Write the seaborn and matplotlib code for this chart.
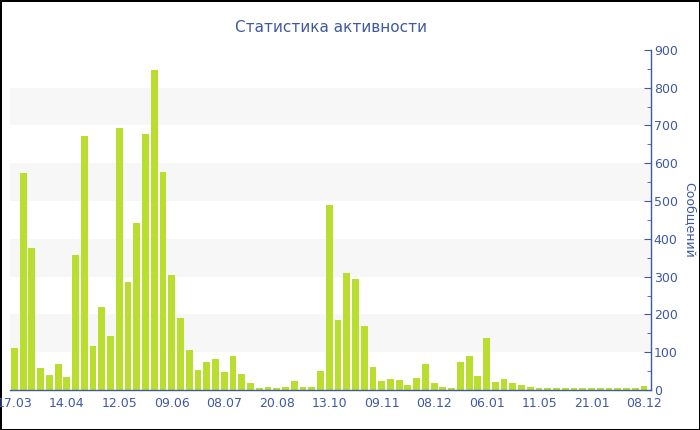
import numpy as np
import pandas as pd
import matplotlib
matplotlib.use('Agg')
import matplotlib.pyplot as plt
import seaborn as sns
from matplotlib.ticker import MultipleLocator

# Message counts per bar
values = [110, 574, 375, 57, 40, 69, 34, 358, 672, 117,
          220, 143, 694, 286, 441, 677, 847, 576, 304, 191,
          105, 53, 74, 83, 48, 90, 43, 19, 6, 8,
          5, 8, 23, 7, 7, 51, 489, 184, 310, 295,
          170, 62, 23, 28, 26, 13, 31, 68, 19, 8,
          6, 73, 90, 38, 137, 22, 28, 18, 14, 9,
          5, 4, 4, 4, 5, 5, 6, 4, 4, 6,
          4, 5, 10]

# Labels shown every 6th bar
tick_labels = ['17.03', '14.04', '12.05', '09.06', '08.07', '20.08', '13.10',
               '09.11', '08.12', '06.01', '11.05', '21.01', '08.12']
tick_step = 6

title = 'Статистика активности'
ylabel = 'Сообщений'

blue = '#3f58a3'
bar_color = '#bade2f'

df = pd.DataFrame({'idx': np.arange(len(values)), 'count': values})

sns.set_style('white')
plt.rcParams['font.family'] = ['DejaVu Sans']

fig = plt.figure(figsize=(7, 4.3), dpi=100)
fig.patch.set_edgecolor('black')
fig.patch.set_linewidth(2)
ax = fig.add_axes([0.0143, 0.093, 0.9157, 0.791])

# alternating light bands
for lo in range(100, 900, 200):
    ax.axhspan(lo, lo + 100, color='#f7f7f7', zorder=0, lw=0)

sns.barplot(data=df, x='idx', y='count', color=bar_color, width=0.78,
            saturation=1, linewidth=0, ax=ax, zorder=2)

ax.set_xlim(-0.5, len(values) - 0.2)
ax.set_ylim(0, 900)
ax.set_xticks(np.arange(0, len(values), tick_step))
ax.set_xticklabels(tick_labels)

ax.yaxis.tick_right()
ax.yaxis.set_label_position('right')
ax.yaxis.set_major_locator(MultipleLocator(100))
ax.yaxis.set_minor_locator(MultipleLocator(50))
ax.tick_params(axis='y', which='major', direction='in', length=5, color=blue,
               labelcolor=blue, labelsize=9, pad=2)
ax.tick_params(axis='y', which='minor', direction='in', length=3, color=blue, right=True)
ax.tick_params(axis='x', direction='out', length=4, color=blue, labelcolor=blue,
               labelsize=9, pad=1)

for s in ['top', 'left']:
    ax.spines[s].set_visible(False)
for s in ['right', 'bottom']:
    ax.spines[s].set_color(blue)
    ax.spines[s].set_linewidth(1)

ax.set_xlabel('')
ax.set_ylabel(ylabel, color=blue, fontsize=9, rotation=270, labelpad=13)
ax.set_title(title, color=blue, fontsize=11, pad=13)
ax.grid(False)

fig.savefig('out.png', dpi=100, edgecolor=fig.get_edgecolor())
